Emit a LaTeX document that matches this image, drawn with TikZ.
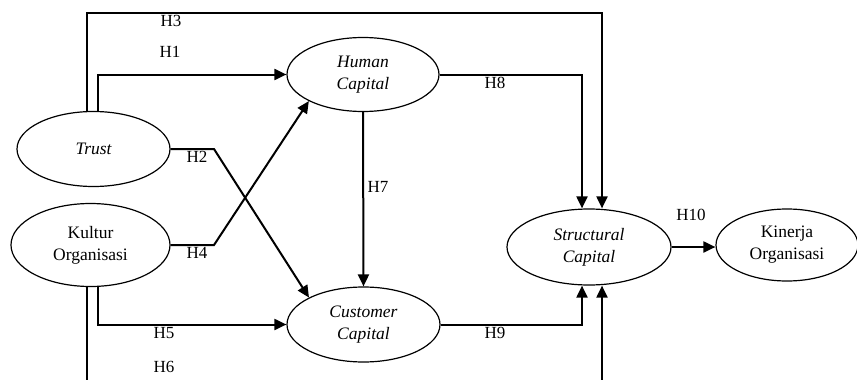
\documentclass[tikz,border=0pt]{standalone}
\usepackage{fontspec}
\setmainfont{Liberation Serif}
\usetikzlibrary{shapes.geometric,arrows.meta}
\begin{document}
\begin{tikzpicture}[x=1pt,y=-1pt,
  var/.style={ellipse,draw,line width=1.2pt,inner sep=0pt,align=center,
    font=\fontsize{17.5}{22}\selectfont},
  conn/.style={line width=2pt},
  arr/.style={conn,-{Triangle[length=12pt,width=11pt]}},
  lab/.style={font=\fontsize{17}{20}\selectfont,inner sep=0pt}]
\useasboundingbox (0,0) rectangle (857,380);
% nodes
\node[var,minimum width=153pt,minimum height=75pt] (trust) at (93.5,149) {\itshape Trust};
\node[var,minimum width=159pt,minimum height=83pt] (kultur) at (90.5,245) {Kultur\\Organisasi};
\node[var,minimum width=152pt,minimum height=74pt] (human) at (363,74.5) {\itshape Human\\\itshape Capital};
\node[var,minimum width=153pt,minimum height=75pt] (customer) at (363.5,324.5) {\itshape Customer\\\itshape Capital};
\node[var,minimum width=164pt,minimum height=76pt] (struct) at (589,247) {\itshape Structural\\\itshape Capital};
\node[var,minimum width=142pt,minimum height=72pt] (kinerja) at (787,245) {Kinerja\\Organisasi};
% helper coordinates
\coordinate (xa) at (87,0);
\coordinate (xb) at (98,0);
\coordinate (xbend) at (214,0);
\coordinate (xc) at (582,0);
\coordinate (xd) at (602,0);
\coordinate (top) at (0,13);
\coordinate (bot) at (0,381);
% H3
\draw[arr] (xa |- trust.north) -- (xa |- top) -- (xd |- top) -- (xd |- struct.north);
% H1
\draw[arr] (xb |- trust.north) -- (xb |- human.west) -- (human.west);
% H8
\draw[arr] (human.east) -- (xc |- human.east) -- (xc |- struct.north);
% H7
\draw[arr] (human.south) -- (customer.north);
% H2
\draw[arr] (trust.east) -- (xbend |- trust.east) -- (customer.north west);
% H4
\draw[arr] (kultur.east) -- (xbend |- kultur.east) -- (human.south west);
% H5
\draw[arr] (xb |- kultur.south) -- (xb |- customer.west) -- (customer.west);
% H6
\draw[conn] (xa |- kultur.south) -- (xa |- bot);
\draw[arr] (xd |- bot) -- (xd |- struct.south);
% H9
\draw[arr] (customer.east) -- (xc |- customer.east) -- (xc |- struct.south);
% H10
\draw[arr] (struct.east) -- (struct.east -| kinerja.west);
% labels
\node[lab] (l3) at (171,21) {H3};
\node[lab] (l1) at (170,52) {H1};
\node[lab] (l2) at (197,157) {H2};
\node[lab] (l4) at (197,253) {H4};
\node[lab] (l5) at (164,333) {H5};
\node[lab] (l6) at (164,367) {H6};
\node[lab] (l7) at (378,187) {H7};
\node[lab] (l8) at (495,83) {H8};
\node[lab] (l9) at (495,333) {H9};
\node[lab] (l10) at (691,215) {H10};
\end{tikzpicture}
\end{document}
